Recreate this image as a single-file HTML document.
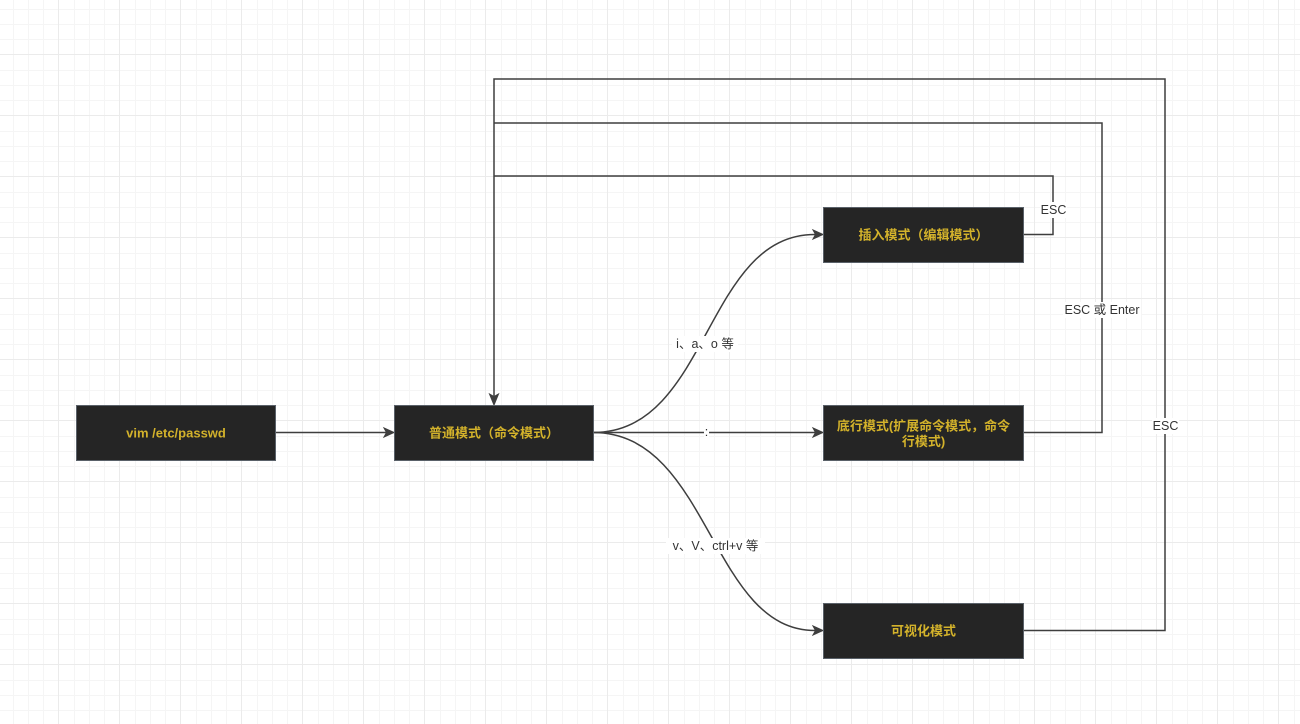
<!DOCTYPE html>
<html>
<head>
<meta charset="utf-8">
<style>
html,body{margin:0;padding:0;background:#fff;}
.grid{position:absolute;left:0;top:0;width:1300px;height:724px;
background-color:#fff;
background-image:
linear-gradient(to right, #ebebeb 0px, #ebebeb 1px, transparent 1px, transparent 61px),
linear-gradient(to bottom, #ebebeb 0px, #ebebeb 1px, transparent 1px, transparent 61px),
linear-gradient(to right, transparent 16px, #f5f5f5 16px, #f5f5f5 17px, transparent 17px, transparent 31px, #f5f5f5 31px, #f5f5f5 32px, transparent 32px, transparent 46px, #f5f5f5 46px, #f5f5f5 47px, transparent 47px),
linear-gradient(to bottom, transparent 16px, #f5f5f5 16px, #f5f5f5 17px, transparent 17px, transparent 31px, #f5f5f5 31px, #f5f5f5 32px, transparent 32px, transparent 46px, #f5f5f5 46px, #f5f5f5 47px, transparent 47px);
background-size:61px 61px,61px 61px,61px 61px,61px 61px;
background-position:58px 54px,58px 54px,58px 54px,58px 54px;
}
svg{position:absolute;left:0;top:0;display:block;}
.node{fill:#252525;stroke:#5a6169;stroke-width:1;}
.nt{fill:#d3b22b;font-family:"Liberation Sans","Noto Sans CJK SC",sans-serif;font-size:13px;font-weight:bold;text-anchor:middle;dominant-baseline:central;}
.e{fill:none;stroke:#3e3e3e;stroke-width:1.5;}
.ah{fill:#3e3e3e;stroke:#3e3e3e;stroke-width:1;stroke-linejoin:miter;}
.lb{fill:#333;font-family:"Liberation Sans","Noto Sans CJK SC",sans-serif;font-size:12.5px;text-anchor:middle;dominant-baseline:central;}
</style>
</head>
<body>
<div class="grid"></div>
<svg width="1300" height="724" viewBox="0 0 1300 724" xmlns="http://www.w3.org/2000/svg">

<!-- return edges -->
<path class="e" d="M1023 234.5 H1053 V176 H494"/>
<path class="e" d="M1023 432.5 H1102 V123 H494"/>
<path class="e" d="M1023 630.5 H1165 V79 H494 V396"/>
<polygon class="ah" points="494,405 489.5,394 494,396.5 498.5,394"/>

<!-- vim -> normal -->
<path class="e" d="M275 432.5 H386"/>
<polygon class="ah" points="394,432.5 384,428 386.5,432.5 384,437"/>

<!-- normal -> cmdline -->
<path class="e" d="M593 432.5 H815"/>
<polygon class="ah" points="823,432.5 813,428 815.5,432.5 813,437"/>

<!-- normal -> insert -->
<path class="e" d="M593 432.5 C710 432.5 704 234.5 815 234.5"/>
<polygon class="ah" points="823,234.5 813,230 815.5,234.5 813,239"/>

<!-- normal -> visual -->
<path class="e" d="M593 432.5 C710 432.5 710 630.5 815 630.5"/>
<polygon class="ah" points="823,630.5 813,626 815.5,630.5 813,635"/>

<!-- nodes -->
<rect class="node" x="76.5" y="405.5" width="199" height="55"/>
<text class="nt" x="176" y="433">vim /etc/passwd</text>

<rect class="node" x="394.5" y="405.5" width="199" height="55"/>
<text class="nt" x="494" y="433">普通模式（命令模式）</text>

<rect class="node" x="823.5" y="207.5" width="200" height="55"/>
<text class="nt" x="923.5" y="235">插入模式（编辑模式）</text>

<rect class="node" x="823.5" y="405.5" width="200" height="55"/>
<text class="nt" x="923.5" y="426">底行模式(扩展命令模式，命令</text>
<text class="nt" x="923.5" y="441.5">行模式)</text>

<rect class="node" x="823.5" y="603.5" width="200" height="55"/>
<text class="nt" x="923.5" y="631">可视化模式</text>

<!-- labels -->
<rect x="672" y="336" width="66" height="16" fill="#fff"/>
<text class="lb" x="705" y="344">i、a、o 等</text>

<rect x="666" y="538" width="99" height="16" fill="#fff"/>
<text class="lb" x="715.5" y="546">v、V、ctrl+v 等</text>

<rect x="704" y="426" width="5" height="13" fill="#fff"/>
<text class="lb" x="706.5" y="432">:</text>

<rect x="1040" y="202" width="27" height="16" fill="#fff"/>
<text class="lb" x="1053.5" y="210">ESC</text>

<rect x="1063" y="302" width="78" height="16" fill="#fff"/>
<text class="lb" x="1102" y="310">ESC 或 Enter</text>

<rect x="1152" y="418" width="27" height="16" fill="#fff"/>
<text class="lb" x="1165.5" y="426">ESC</text>
</svg>
</body>
</html>
